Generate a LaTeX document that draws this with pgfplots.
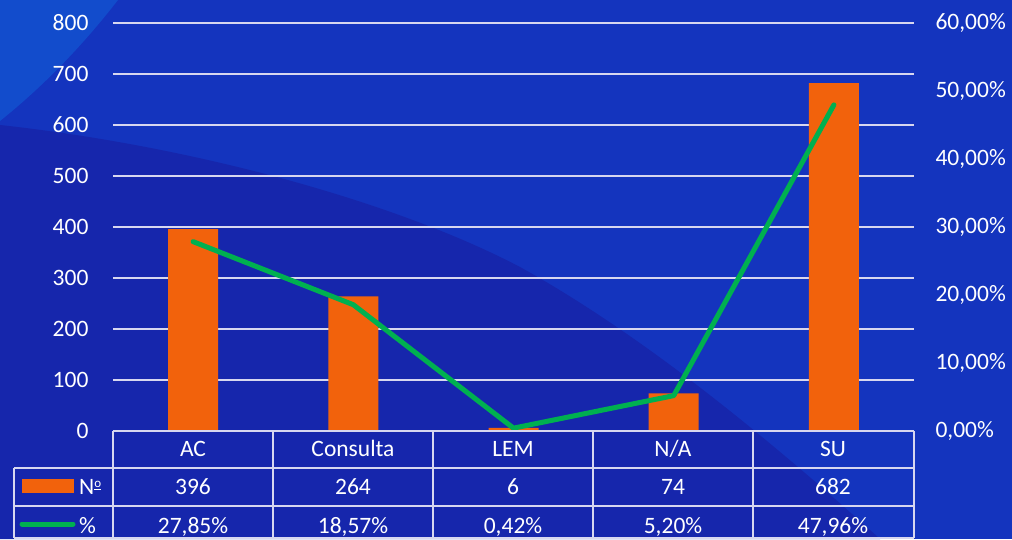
\documentclass[border=0pt]{standalone}
\usepackage{pgfplots}
\pgfplotsset{compat=1.18}
\usepackage{pgfplotstable}
\usepackage{fontspec}
\setmainfont{Carlito}
\definecolor{bgbase}{RGB}{20,52,190}
\definecolor{bglight}{RGB}{18,76,204}
\definecolor{bgdark}{RGB}{22,38,172}
\definecolor{gridc}{RGB}{215,215,240}
\definecolor{barc}{RGB}{242,98,12}
\definecolor{linec}{RGB}{0,176,80}
\newcommand\tf{\fontsize{23.5}{28}\selectfont}

\pgfplotstableread{
x n
0 396
1 264
2 6
3 74
4 682
}\barsdata
\pgfplotstableread{
x p
0 27.85
1 18.57
2 0.42
3 5.20
4 47.96
}\pctdata

\begin{document}
\begin{tikzpicture}[x=1pt,y=1pt]
\path[use as bounding box] (0,0) rectangle (1012,539);
\fill[bgbase] (0,0) rectangle (1012,539);
% background shapes
\fill[bgdark] (0,0) -- (0,414) .. controls (200,392) and (400,335) .. (520,272) .. controls (650,200) and (780,90) .. (880,0) -- cycle;
\fill[bglight] (0,539) -- (118,539) .. controls (80,490) and (40,450) .. (0,418) -- cycle;

\begin{axis}[at={(113pt,108pt)}, anchor=south west, scale only axis,
  width=801pt, height=408pt,
  xmin=-0.5, xmax=4.5, ymin=0, ymax=800,
  ytick={0,100,...,800}, xtick=\empty,
  axis line style={draw=none}, major tick length=0pt,
  ymajorgrids, grid style={gridc, line width=1.6pt},
  tick label style={font=\tf, text=white},
  /pgf/number format/assume math mode=true,
  yticklabel style={anchor=east, xshift=-21pt},
  clip=false]
\addplot[ybar, bar width=50pt, fill=barc, draw=none] table[x=x,y=n]{\barsdata};
\end{axis}

\begin{axis}[at={(113pt,108pt)}, anchor=south west, scale only axis,
  width=801pt, height=408pt,
  xmin=-0.5, xmax=4.5, ymin=0, ymax=60,
  axis y line*=right, axis x line=none,
  ytick={0,10,...,60}, xtick=\empty,
  yticklabels={{0,00\%},{10,00\%},{20,00\%},{30,00\%},{40,00\%},{50,00\%},{60,00\%}},
  axis line style={draw=none}, major tick length=0pt,
  tick label style={font=\tf, text=white},
  yticklabel style={anchor=west, xshift=18pt},
  clip=false]
\addplot[linec, line width=5pt, line cap=round, line join=round] table[x=x,y=p]{\pctdata};
\end{axis}

% data table
\begin{scope}[gridc, line width=2pt]
\draw (113,108) -- (914,108);
\draw (14,71) -- (914,71);
\draw (14,33) -- (914,33);
\draw (14,1) -- (914,1);
\draw (14,71) -- (14,1);
\foreach \xx in {113,273,433,593,753,914} \draw (\xx,108) -- (\xx,1);
\end{scope}
\begin{scope}[every node/.style={font=\tf, text=white, anchor=base, inner sep=0pt}]
\node at (193,83) {AC};
\node at (353,83) {Consulta};
\node at (513,83) {LEM};
\node at (673,83) {N/A};
\node at (833,83) {SU};
\node at (193,45) {396};
\node at (353,45) {264};
\node at (513,45) {6};
\node at (673,45) {74};
\node at (833,45) {682};
\node at (193,6) {27,85\%};
\node at (353,6) {18,57\%};
\node at (513,6) {0,42\%};
\node at (673,6) {5,20\%};
\node at (833,6) {47,96\%};
\node[anchor=base west] at (79,45) {N\raisebox{6.5pt}{\fontsize{13}{13}\selectfont\underline{o}}};
\node[anchor=base west] at (79,6) {\%};
\end{scope}
\fill[barc] (22,46) rectangle (74,60);
\draw[linec, line width=5pt, line cap=round] (22,15) -- (73,15);
\end{tikzpicture}
\end{document}
